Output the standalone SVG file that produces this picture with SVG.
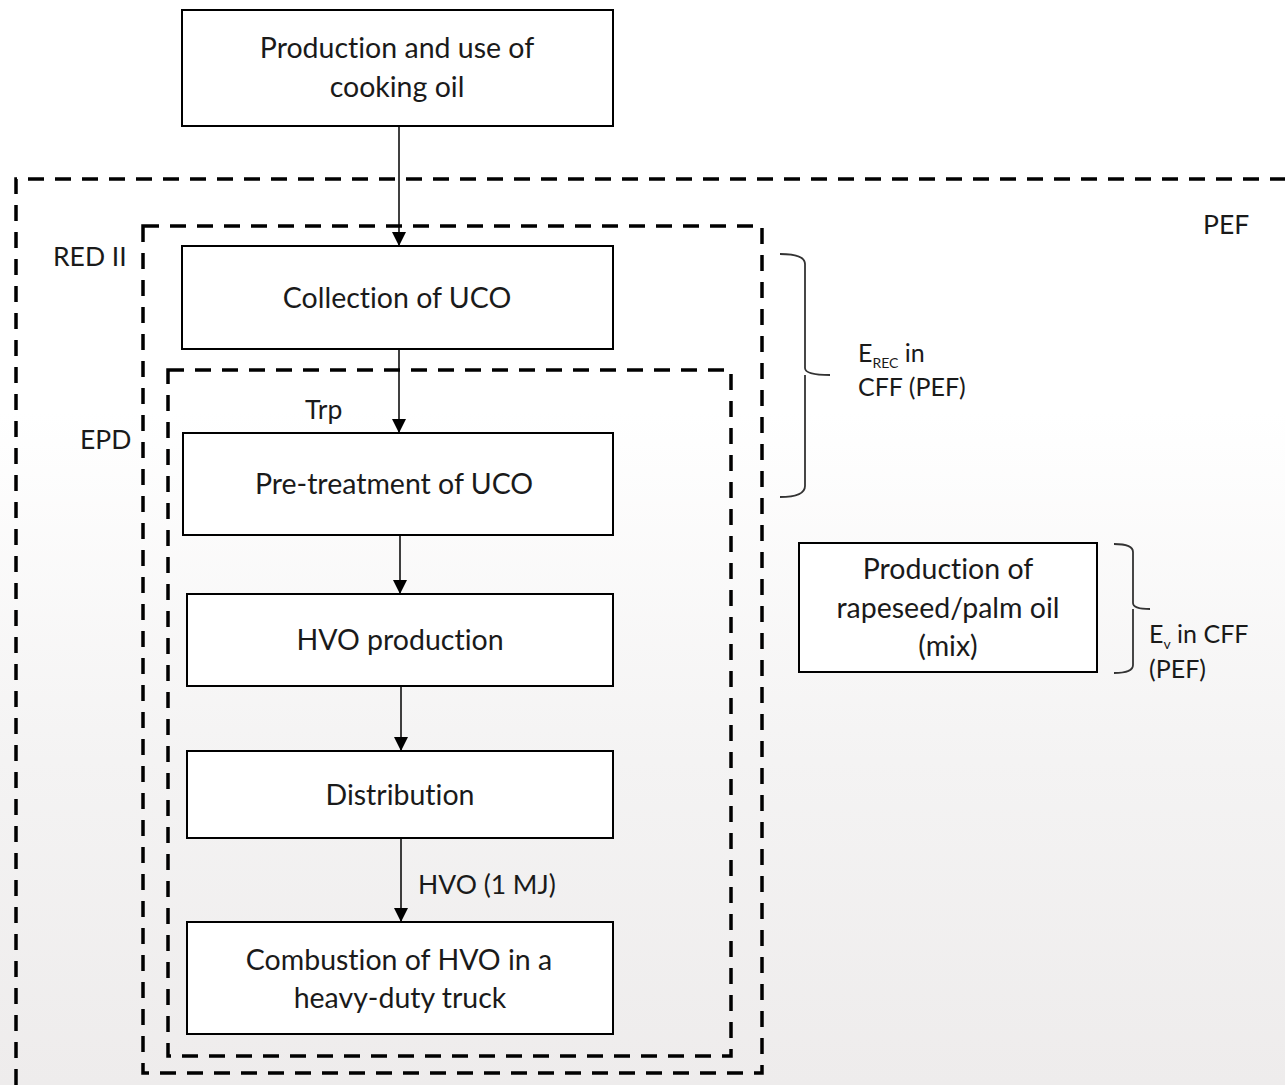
<svg xmlns="http://www.w3.org/2000/svg" width="1285" height="1085" viewBox="0 0 1285 1085">
<defs>
<linearGradient id="bg" x1="0" y1="0" x2="0" y2="1">
<stop offset="0" stop-color="#ffffff"/>
<stop offset="0.38" stop-color="#ffffff"/>
<stop offset="0.7" stop-color="#f4f3f3"/>
<stop offset="1" stop-color="#eeecec"/>
</linearGradient>
<marker id="ah" markerWidth="14" markerHeight="14" refX="14" refY="7" orient="auto" markerUnits="userSpaceOnUse" viewBox="0 0 14 14">
<path d="M0,0 L14,7 L0,14 Z" fill="#000"/>
</marker>
</defs>
<style>
text{font-variant-ligatures:none}
.box{fill:#fff;stroke:#000;stroke-width:2}
.dash{fill:none;stroke:#000;stroke-width:3.5;stroke-dasharray:16 11}
.t{font-family:Lato,"Open Sans","Liberation Sans",sans-serif;font-size:28.5px;fill:#1a1a1a;text-anchor:middle}
.l{font-family:Lato,"Open Sans","Liberation Sans",sans-serif;font-size:26.5px;fill:#1a1a1a}
.b{font-family:Lato,"Open Sans","Liberation Sans",sans-serif;font-size:25px;fill:#1a1a1a}
.conn{stroke:#000;stroke-width:1.5;fill:none}
.brace{fill:none;stroke:#333;stroke-width:1.8}
</style>
<rect x="0" y="0" width="1285" height="1085" fill="url(#bg)"/>

<g id="boundaries">
<path class="dash" d="M16,1085 L16,179 L1285,179"/>
<rect class="dash" x="143" y="226" width="619" height="847"/>
<rect class="dash" x="168" y="370" width="563" height="686"/>
</g>

<g id="n1"><rect class="box" x="182" y="10" width="431" height="116"/>
<text class="t" x="397" y="58">Production and use of</text><text class="t" x="397" y="97">cooking oil</text></g>
<g id="n2"><rect class="box" x="182" y="246" width="431" height="103"/>
<text class="t" x="397" y="308">Collection of UCO</text></g>
<g id="n3"><rect class="box" x="183" y="433" width="430" height="102"/>
<text class="t" x="394" y="494">Pre-treatment of UCO</text></g>
<g id="n4"><rect class="box" x="187" y="594" width="426" height="92"/>
<text class="t" x="400" y="650">HVO production</text></g>
<g id="n5"><rect class="box" x="187" y="751" width="426" height="87"/>
<text class="t" x="400" y="805">Distribution</text></g>
<g id="n6"><rect class="box" x="187" y="922" width="426" height="112"/>
<text class="t" x="399" y="970">Combustion of HVO in a</text><text class="t" x="400" y="1008">heavy-duty truck</text></g>
<g id="n7"><rect class="box" x="799" y="543" width="298" height="129"/>
<text class="t" x="948" y="579">Production of</text><text class="t" x="948" y="618">rapeseed/palm oil</text><text class="t" x="948" y="656">(mix)</text></g>

<g id="connectors">
<line class="conn" x1="399" y1="126" x2="399" y2="246" marker-end="url(#ah)"/>
<line class="conn" x1="399" y1="349" x2="399" y2="433" marker-end="url(#ah)"/>
<line class="conn" x1="400" y1="535" x2="400" y2="594" marker-end="url(#ah)"/>
<line class="conn" x1="401" y1="686" x2="401" y2="751" marker-end="url(#ah)"/>
<line class="conn" x1="401" y1="838" x2="401" y2="922" marker-end="url(#ah)"/>
</g>

<g id="labels">
<text class="l" x="1203" y="234">PEF</text>
<text class="l" x="53" y="266">RED II</text>
<text class="l" x="80" y="449">EPD</text>
<text class="l" x="305" y="419">Trp</text>
<text class="l" x="418" y="894">HVO (1 MJ)</text>
</g>

<g id="braces">
<path class="brace" d="M780,254 Q805,254 805,264 L805,368 Q805,375 830,375 M805,375 Q805,382 805,386 L805,486 Q805,497 780,497"/>
<path class="brace" d="M1114,544 Q1133,544 1133,552 L1133,603 Q1133,609 1150,609 M1133,609 Q1133,615 1133,620 L1133,665 Q1133,673 1114,673"/>
<text class="b" x="858" y="362">E<tspan font-size="14" dy="6">REC</tspan><tspan dy="-6"> in</tspan></text>
<text class="b" x="858" y="396">CFF (PEF)</text>
<text class="b" x="1149" y="643">E<tspan font-size="14" dy="6">v</tspan><tspan dy="-6"> in CFF</tspan></text>
<text class="b" x="1149" y="678">(PEF)</text>
</g>
</svg>
